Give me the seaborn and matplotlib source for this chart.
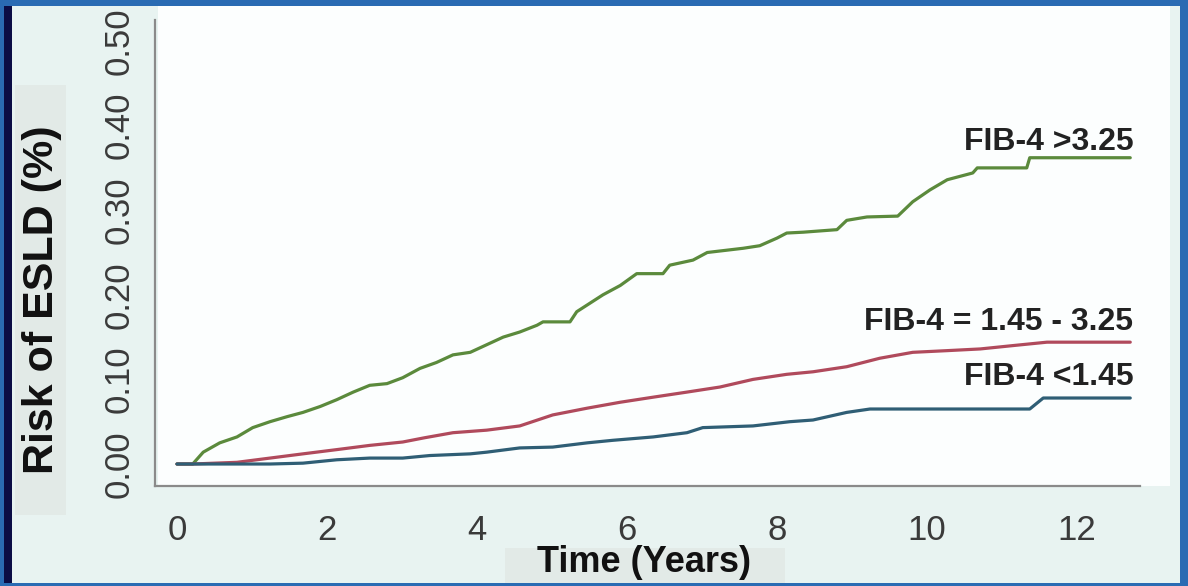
import matplotlib
matplotlib.use("Agg")
import matplotlib.pyplot as plt
from matplotlib.patches import Rectangle
import seaborn as sns
import pandas as pd

# ---- data (time in years, cumulative risk) ----
high_t = [0.00, 0.21, 0.35, 0.57, 0.80, 1.01, 1.24, 1.47, 1.68, 1.91, 2.13, 2.35,
          2.57, 2.80, 3.01, 3.24, 3.46, 3.68, 3.91, 4.13, 4.35, 4.57, 4.80, 4.88,
          5.24, 5.33, 5.47, 5.68, 5.91, 6.13, 6.48, 6.57, 6.88, 7.07, 7.55, 7.77,
          8.00, 8.13, 8.35, 8.80, 8.93, 9.20, 9.61, 9.81, 10.04, 10.27, 10.61,
          10.67, 11.33, 11.37, 12.71]
high_v = [0.000, 0.000, 0.014, 0.025, 0.032, 0.043, 0.050, 0.056, 0.061, 0.068,
          0.076, 0.085, 0.093, 0.095, 0.102, 0.113, 0.120, 0.129, 0.132, 0.141,
          0.150, 0.156, 0.164, 0.168, 0.168, 0.180, 0.188, 0.200, 0.211, 0.225,
          0.225, 0.235, 0.241, 0.250, 0.255, 0.258, 0.267, 0.273, 0.274, 0.277,
          0.288, 0.292, 0.293, 0.310, 0.324, 0.336, 0.344, 0.350, 0.350, 0.362,
          0.362]

mid_t = [0.00, 0.21, 0.80, 1.24, 1.68, 2.13, 2.57, 3.01, 3.30, 3.68, 4.13, 4.57,
         5.01, 5.47, 5.91, 6.35, 6.80, 7.24, 7.68, 8.13, 8.48, 8.93, 9.37, 9.81,
         10.27, 10.71, 11.15, 11.60, 12.71]
mid_v = [0.000, 0.000, 0.002, 0.007, 0.012, 0.017, 0.022, 0.026, 0.031, 0.037,
         0.040, 0.045, 0.058, 0.066, 0.073, 0.079, 0.085, 0.091, 0.100, 0.106,
         0.109, 0.115, 0.125, 0.132, 0.134, 0.136, 0.140, 0.144, 0.144]

low_t = [0.00, 1.24, 1.68, 2.13, 2.57, 3.01, 3.37, 3.91, 4.13, 4.57, 5.01, 5.47,
         5.81, 6.35, 6.80, 7.01, 7.68, 8.17, 8.48, 8.93, 9.24, 11.37, 11.55, 12.71]
low_v = [0.000, 0.000, 0.001, 0.005, 0.007, 0.007, 0.010, 0.012, 0.014, 0.019,
         0.020, 0.025, 0.028, 0.032, 0.037, 0.043, 0.045, 0.050, 0.052, 0.061,
         0.065, 0.065, 0.078, 0.078]

groups = ["FIB-4 >3.25", "FIB-4 = 1.45 - 3.25", "FIB-4 <1.45"]
colors = ["#5b8a3c", "#b04a5c", "#2f5e75"]
x_ticks = [0, 2, 4, 6, 8, 10, 12]
y_ticks = [0.0, 0.1, 0.2, 0.3, 0.4, 0.5]
y_tick_labels = ["0.00", "0.10", "0.20", "0.30", "0.40", "0.50"]

df = pd.concat([
    pd.DataFrame({"time": high_t, "risk": high_v, "group": groups[0]}),
    pd.DataFrame({"time": mid_t, "risk": mid_v, "group": groups[1]}),
    pd.DataFrame({"time": low_t, "risk": low_v, "group": groups[2]}),
], ignore_index=True)

sns.set_style("white")
plt.rcParams["font.family"] = ["Liberation Sans", "DejaVu Sans"]

W, H = 1188, 586
fig = plt.figure(figsize=(W / 100, H / 100), dpi=100)
fig.patch.set_facecolor("#e8f3f1")

def px_rect(x0, y0, x1, y1, color, z):
    """rectangle in pixel coords measured from the top-left"""
    fig.add_artist(Rectangle((x0 / W, 1 - y1 / H), (x1 - x0) / W, (y1 - y0) / H,
                             transform=fig.transFigure, facecolor=color,
                             edgecolor="none", zorder=z))

# white plot region and subtle label panels
px_rect(158, 6, 1170, 486, "#fcfefe", -2)
px_rect(15, 85, 66, 515, "#e2eae7", -2)
px_rect(505, 548, 785, 586, "#e2eae7", -2)

ax = fig.add_axes([155 / W, 1 - 486 / H, (1140 - 155) / W, (486 - 20) / H])
ax.set_facecolor("none")

sns.lineplot(data=df, x="time", y="risk", hue="group", hue_order=groups,
             palette=colors, estimator=None, errorbar=None,
             linewidth=2.3, legend=False, ax=ax)

ax.set_xlim(-0.293, 12.84)
ax.set_ylim(-0.026, 0.5248)
ax.set_xticks(x_ticks)
ax.set_xticklabels([str(t) for t in x_ticks])
ax.set_yticks(y_ticks)
ax.set_yticklabels(y_tick_labels, rotation=90, va="center")

for s in ["top", "right"]:
    ax.spines[s].set_visible(False)
for s in ["left", "bottom"]:
    ax.spines[s].set_color("#8a8a8a")
    ax.spines[s].set_linewidth(1.6)

ax.tick_params(axis="both", direction="out", length=9, width=1.2,
               color="#7a7a7a", labelsize=25, labelcolor="#3a3a3a")
ax.tick_params(axis="x", pad=11)
ax.tick_params(axis="y", pad=5)

ax.set_xlabel("Time (Years)", fontsize=26, fontweight="bold", color="#111111",
              va="center", ha="center")
ax.xaxis.set_label_coords(0.4965, -0.165)
ax.set_ylabel("Risk of ESLD (%)", fontsize=31, fontweight="bold", color="#111111",
              va="center", ha="center")
ax.yaxis.set_label_coords(-0.1147, 0.399)

label_y = [0.371, 0.158, 0.093]
for g, ly in zip(groups, label_y):
    ax.text(12.75, ly, g, ha="right", va="baseline", fontsize=23,
            fontweight="bold", color="#222222")

# slide frame
px_rect(0, 0, W, 6, "#2a6bb3", 10)
px_rect(0, 583, W, H, "#2a6bb3", 10)
px_rect(0, 0, 4, H, "#2a6bb3", 10)
px_rect(4, 6, 12, 583, "#0b0d45", 10)
px_rect(1180, 0, W, H, "#2a6bb3", 10)

fig.savefig("out.png", dpi=100, facecolor=fig.get_facecolor())
